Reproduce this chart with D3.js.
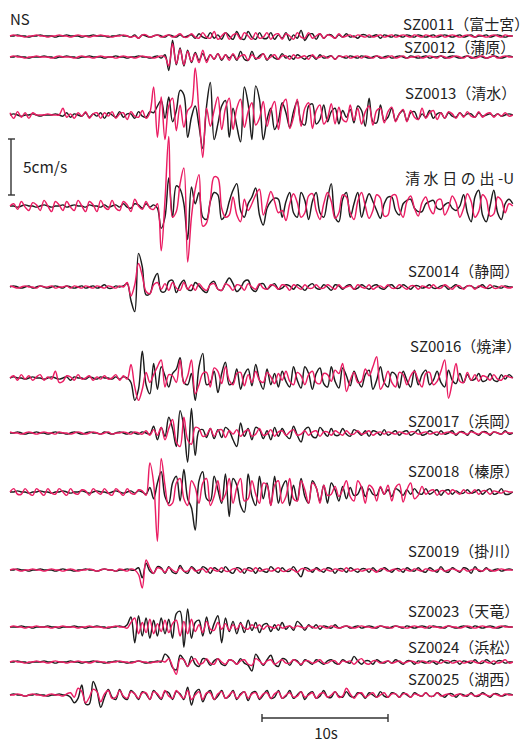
<!DOCTYPE html>
<html>
<head>
<meta charset="utf-8">
<script src="https://cdn.jsdelivr.net/npm/d3@7"></script>
<style>
  html, body { margin: 0; padding: 0; background: #fff; }
  svg { display: block; }
  text { font-family: "Noto Sans CJK JP", "DejaVu Sans", sans-serif; fill: #222; }
</style>
</head>
<body>
<svg id="chart" width="531" height="742"></svg>
<script>
// Velocity records, NS component, 0.3 s sampling, values in mm/s.
const sampleInterval = 0.3;
const component = "NS";
const stations = [
  "SZ0011（富士宮）", "SZ0012（蒲原）", "SZ0013（清水）", "清水日の出-U",
  "SZ0014（静岡）", "SZ0016（焼津）", "SZ0017（浜岡）", "SZ0018（榛原）",
  "SZ0019（掛川）", "SZ0023（天竜）", "SZ0024（浜松）", "SZ0025（湖西）"
];
const ampBarValue = 50;      // mm/s  (5 cm/s)
const ampBarLabel = "5cm/s";
const timeBar = [20, 30];    // s
const timeBarLabel = "10s";

const blackSZ0011 = [0,0,1,0,0,-1,0,0,1,0, 0,0,-1,0,0,1,0,0,0,-1, 0,0,1,0,0,0,-1,0,0,1, 0,0,-1,1,-2,1,0,-1,0,1, 0,-1,1,0,-1,1,-1,0,1,-2, 2,-1,-2,3,-2,1,-3,3,0,-3, 4,-2,-3,4,-1,-3,3,-2,-2,3, -3,1,-2,3,-4,1,-2,5,-4,1, 2,-3,2,-2,1,1,-2,1,-1,2, -1,0,-2,1,1,-1,0,1,-2,1, 0,-1,1,0,-1,1,0,-1,1,0, -1,0,1,-1,0,1,0,-1,0,1, -1,0,1,-1,0,0,1,-1,0,1,0,-1,0,0];
const redSZ0011 = [0,1,0,0,-1,0,0,1,0,0, -1,0,0,1,0,0,-1,0,1,0, 0,-1,0,0,1,0,0,-1,0,0, 1,0,-1,0,-2,1,1,-1,0,1, -1,0,1,-1,0,2,-1,-1,2,-1, -2,3,-1,-2,4,-3,0,3,-3,1, 2,-3,3,0,-3,3,-2,-1,3,-3, 1,2,-3,2,0,-3,3,-1,-2,3, -2,0,2,-2,1,0,-2,2,-1,0, 1,-1,1,0,-1,1,-1,0,1,-1, 0,1,-1,0,1,0,-1,1,0,-1, 1,0,-1,0,1,-1,0,1,0,-1, 0,1,0,-1,1,0,-1,0,1,0,-1,1,0,0];

const blackSZ0012 = [0,0,1,0,0,-1,0,0,0,1, 0,0,-1,0,0,1,0,0,-1,0, 0,1,0,0,0,-1,0,0,1,0, 0,-1,0,0,1,0,0,-1,0,1, -1,2,-12,15,-7,8,-8,6,-5,4, -3,3,-3,2,-2,3,-3,2,-1,2, -3,5,-2,-3,5,-2,1,3,-3,2, -1,-2,3,-1,1,-2,2,0,-2,1, 1,-2,2,-1,0,1,-2,1,0,-1, 1,0,-1,1,0,-1,0,1,-1,0, 1,-1,0,1,0,-1,1,0,-1,0, 1,-1,0,0,1,-1,0,1,0,-1, 0,1,-1,0,1,0,-1,0,1,0,-1,0,1,0];
const redSZ0012 = [0,1,0,0,-1,0,0,1,0,0, 0,-1,0,1,0,0,0,-1,0,1, 0,0,-1,0,1,0,0,0,-1,0, 1,0,0,-1,0,1,0,0,-1,0, 1,0,-8,12,-6,7,-7,5,-4,3, -5,6,-5,2,-2,3,-2,2,-3,3, -2,1,2,-3,2,-1,-1,3,-2,0, 2,-2,1,1,-2,2,-1,0,1,-2, 2,-1,0,1,-1,1,-2,1,0,1, -1,0,1,-1,1,0,-1,1,0,-1, 0,1,-1,0,1,-1,0,0,1,-1, 0,1,0,-1,1,0,-1,0,1,0, -1,1,0,-1,0,1,-1,0,1,-1,0,1,0,0];

const blackSZ0013 = [0,1,0,-1,0,0,1,0,-1,0, 0,0,1,0,-1,2,-2,1,0,-1, 2,-2,1,-1,2,-3,2,0,-2,3, -2,1,1,-3,3,-1,-2,3,2,8, 13,-3,16,-6,4,22,18,-20,-2,8, -10,-30,8,29,-22,-8,8,13,-20,6, -10,-24,25,10,-22,26,14,-22,-4,6, -13,-5,11,2,-11,3,12,-6,-9,8, 10,-8,-4,9,-6,3,6,-8,4,-2, 5,-7,8,4,-10,15,-6,-7,9,-5, -2,6,-5,1,4,-5,2,3,-4,1, -2,4,-3,1,2,-3,2,-1,-2,2, -1,1,1,-2,2,-1,0,1,-1,1,-1,0,1,0];
const redSZ0013 = [2,-3,3,-2,2,-3,2,0,0,0, 1,0,0,0,6,-2,1,-3,2,-1, 3,-3,1,2,-3,2,-1,3,-3,1, 2,-4,3,-1,-2,4,-3,2,25,-20, 16,-22,8,15,-14,9,-11,4,8,42, 2,-38,6,-10,4,16,-13,6,15,-13, 6,14,-11,3,11,-9,-3,12,-10,4, 12,-13,8,14,-12,-2,14,-10,6,11, -12,4,9,-8,-3,10,-8,7,-4,-6, 9,-5,6,-8,3,8,-9,4,6,-7, 3,7,-6,1,5,-6,4,-2,-4,6, -3,2,4,-4,2,-3,3,1,-3,2, -2,3,-1,-2,3,-2,1,2,-2,1,-1,2,-1,0];

const blackHinode = [0,0,-1,0,1,0,0,-1,0,1, 0,-1,0,0,1,-1,0,1,0,0, -1,1,0,0,-1,1,-1,0,1,-1, 2,-1,-2,2,1,-2,2,-1,1,-2, -20,-10,25,-10,18,15,2,-30,17,2, 12,-10,-12,4,12,10,-12,-8,4,14, 20,-4,-10,2,8,16,-8,-17,-2,4, 7,6,-10,4,12,-6,-10,12,5,-12, 4,12,-6,-10,6,20,-10,-14,6,12, -10,2,12,-10,2,11,4,-4,-11,2, 8,8,-4,-8,2,5,6,-2,-5,-5, 2,4,5,-2,-3,1,3,-2,-4,0, 10,-6,-14,8,14,-8,-14,0,14,-6,-12,2,6,2];
const redHinode = [0,2,-3,4,-1,-4,3,1,-4,5, 0,-5,4,1,-4,4,-1,-4,5,0, -5,4,1,-5,5,-1,-3,5,-2,-4, 4,1,-5,6,0,-3,4,-2,-3,2, -40,5,62,-10,-5,20,34,-50,-10,15, 28,-18,-15,5,26,25,-2,-10,-8,8, -8,-14,6,-4,2,10,15,-8,2,13, 4,-6,-4,-13,2,11,3,-10,-6,9, 11,-4,-12,2,12,4,-11,-6,10,8, -6,-12,4,12,0,-11,-4,10,7,-9, -8,9,10,-3,-10,4,9,-2,-9,3, 8,-2,-7,5,6,-8,-2,9,3,-10, -2,11,4,-10,-5,10,6,-9,-7,8,5,-6,2,0];

const blackSZ0014 = [0,1,0,-1,0,1,-1,0,1,0, -1,0,1,0,-1,1,0,-1,0,1, -1,0,1,-1,0,2,-1,-1,1,0, 1,3,-12,-22,30,18,-7,-6,6,12, -4,-4,5,6,-5,2,6,-2,-3,4, 1,-3,-5,3,5,-2,-3,3,8,3, -4,-1,5,6,-2,-4,2,3,-2,1, 3,-2,-1,2,1,-2,2,0,-3,1, 3,-1,-2,2,0,-3,2,1,-2,1, 2,-2,-1,2,0,-2,1,2,-1,-2, 1,2,-1,-1,2,0,-2,1,1,-1, 0,2,-1,-1,1,1,-2,0,2,-1, -1,1,1,-1,0,2,-1,-1,1,0,-1,1,0,0];
const redSZ0014 = [1,0,-1,0,1,0,0,-1,1,0, 0,1,-1,0,0,1,-1,1,0,-1, 1,0,-1,1,0,-1,1,0,-1,1, 0,4,-8,2,21,10,-4,-6,2,4, -2,3,-3,4,-1,-3,4,-2,2,-3, 3,-1,-3,2,3,-2,-3,3,1,-3, 2,1,-3,3,0,-2,3,-1,-2,2, 1,-2,2,1,-3,2,0,-2,2,-1, -1,2,-1,-1,2,0,-2,2,-1,0, 1,-2,2,0,-1,2,-2,0,1,-1, 2,-1,-1,2,0,-2,1,1,-2,1, 0,-1,2,-1,-1,2,0,-2,1,1, -2,1,1,-2,1,0,-1,2,-1,-1,1,0,-1,0];

const blackSZ0016 = [0,1,0,0,-1,0,1,0,0,-1, 0,1,0,-1,0,1,-2,1,0,0, -1,1,0,-1,1,0,0,-1,1,-1, 1,0,-4,-20,-10,24,-6,-14,13,-10, 10,2,-8,4,8,18,-4,-6,4,-20, 10,22,-6,-4,6,-13,4,14,-6,-4, 8,-10,3,8,-7,12,-2,-10,8,-6, 4,-8,6,-3,-8,10,-2,-9,10,4, -10,4,9,-5,-8,10,-3,-9,9,2, -7,6,-2,-8,3,7,-10,-2,10,-4, -8,5,3,-9,6,-2,-8,7,-6,3, 7,-6,-2,6,-4,-8,7,-2,-5,4, -4,3,-2,-1,4,-3,-2,4,-2,-3,3,-1,3,0];
const redSZ0016 = [0,2,-2,3,-1,2,-2,1,3,-2, 1,-1,6,-4,-3,2,1,-2,3,-1, 0,2,-2,1,-1,2,-1,0,3,-2, 2,-1,12,-8,-20,-10,5,-4,3,10, 16,-8,3,2,-4,16,-5,2,16,-14, -6,4,5,-8,9,6,-5,10,-2,-6, 4,5,-7,3,-4,6,-2,-4,5,1, -5,4,-2,6,-3,-6,5,2,-6,3, 6,-4,-5,4,3,-3,7,4,13,-12, -2,5,-4,-3,8,2,10,19,-10,-4, 6,-4,-8,5,3,-6,2,6,-2,-8, 4,5,-6,-3,6,16,-18,-4,13,-3, -4,5,-2,3,-3,2,1,-2,3,-1,-2,2,1,0];

const blackSZ0017 = [0,0,1,0,-1,0,0,1,0,0, -1,0,1,0,0,-1,0,1,0,-1, 0,1,0,0,-1,1,0,-1,0,1, 0,-1,1,0,-1,1,0,-1,6,-6, 5,-3,14,4,-12,20,5,-26,22,-20, 2,3,-4,4,-5,3,-4,5,2,-6, -12,9,-3,4,-6,5,3,-5,2,-6, 5,-3,4,-2,-5,6,-2,-8,3,5, -3,-4,5,1,-3,4,-2,-2,4,-1, -3,3,1,-2,2,-3,2,1,-2,3, -2,0,2,-2,1,2,-2,0,3,-2, -1,2,0,-2,2,-1,0,2,-2,1, 1,-2,2,0,-2,1,1,-2,1,0,-1,2,-1,0];
const redSZ0017 = [1,0,0,-1,0,1,0,-1,0,1, 0,0,-1,1,0,0,-1,0,1,0, -1,0,1,0,-1,0,1,-1,0,0, 1,0,-1,1,0,-1,2,-2,3,-2, 5,-6,4,12,-8,-12,14,-6,-10,5, 4,-3,-2,4,-3,2,3,-4,2,-1, 3,-3,1,3,-3,-1,4,-2,-1,3, -3,1,2,-2,1,3,-2,-1,2,-2, 1,2,-3,1,1,-2,2,0,-2,2, -1,-1,2,-1,0,2,-2,0,1,-1, 1,0,-1,1,0,-1,1,1,-1,0, 1,-1,0,1,-1,0,1,0,-1,1, 0,-1,1,0,-1,1,0,-1,1,0,-1,1,0,0];

const blackSZ0018 = [0,0,1,0,0,-1,0,0,1,0, 0,-1,0,0,1,0,-1,0,0,1, 0,-1,0,1,0,0,-1,0,1,0, -1,0,1,-1,1,0,-2,4,-6,8, 18,-4,-10,8,14,-8,20,-6,-14,-34, 10,18,-6,-8,14,2,-10,16,-22,12, 6,-12,-18,16,-4,-12,14,-6,8,-12, 14,-10,4,10,-12,6,-8,12,-4,-10, 10,4,-8,6,-10,8,2,-8,5,-6, 4,-3,-2,5,-4,3,-2,-3,4,-2, 2,-4,3,1,-3,2,-2,3,-1,-2, 3,-2,0,2,-3,1,2,-2,1,-1, -1,2,-1,0,2,-2,1,3,-2,-1,3,-2,-2,0];
const redSZ0018 = [0,3,-2,-2,3,-1,-3,3,0,-3, 3,-1,-2,3,0,-3,3,-1,-2,2, 1,-3,3,0,-2,3,-1,-3,3,0, -3,3,-1,-2,2,1,-3,26,8,-44, 30,6,-12,-10,8,12,-6,-12,10,4, -10,8,12,-12,-4,10,-8,-2,12,-10, 4,12,-8,-6,10,-2,-10,8,6,-12, 6,10,-10,-4,12,-6,-8,10,2,-10, 8,4,-10,6,-3,-2,5,-4,2,10, -4,-8,10,4,-10,6,3,-8,5,-2, 6,-8,4,7,-9,2,8,-6,-3,5, -2,1,2,-3,1,1,-2,2,0,-2, 2,-1,-1,2,-2,1,1,-2,1,0,-1,1,0,0];

const blackSZ0019 = [0,0,1,0,0,-1,0,0,1,0, 0,0,-1,0,1,0,0,-1,0,0, 1,0,0,-1,0,1,0,0,-1,0, 0,1,0,0,2,-7,6,-1,-3,3, 2,-3,3,-2,-3,4,-1,-3,3,0, -3,3,1,-3,2,0,-2,3,-1,-3, 2,1,-3,2,1,-3,2,-1,-2,3, 0,-2,2,-1,-1,3,-2,-6,2,1, -2,2,0,-2,2,1,-3,1,1,-2, 2,0,-2,1,1,-2,2,-1,-1,2, 0,-2,1,1,-2,2,0,-1,2,-1, -2,2,0,-2,3,-1,-2,2,0,-2, 2,1,-3,3,-1,-1,2,-1,0,1,-1,0,1,0];
const redSZ0019 = [0,1,0,-1,0,0,1,0,0,-1, 0,1,0,0,-1,0,1,0,-1,0, 0,1,0,-1,0,1,0,0,-1,1, 0,-1,1,0,-4,-16,9,2,-3,2, 1,-2,2,0,-2,2,-1,-1,2,-1, 0,1,-2,2,0,-1,2,-1,-1,1, 1,-2,1,0,-1,2,-1,0,1,-1, 0,2,-1,-1,1,0,-2,1,1,-1, 0,1,-1,1,0,-1,1,0,-1,2, -1,0,1,-1,0,1,0,-2,1,1, -1,0,1,-1,1,0,-1,1,0,-1, 1,0,-1,0,1,-1,0,1,0,-1, 1,-1,0,1,0,-1,1,0,-1,0,1,0,0,0];

const blackSZ0023 = [0,0,0,1,0,0,-1,0,0,0, 1,0,0,-1,0,0,0,1,0,0, -1,0,0,1,0,0,-1,0,0,1, 0,2,9,-14,10,-8,8,-10,6,-8, 8,-6,7,-10,12,14,-18,16,-10,4, 6,-8,9,-6,3,10,-14,8,-4,5, -6,4,-5,6,-3,4,-5,2,3,-4, 2,-3,4,-2,1,-3,5,2,-3,2, -1,2,-2,1,0,-1,2,-1,0,1, -1,0,1,-1,0,1,0,-1,1,0, -1,0,1,0,-1,1,0,-1,0,1, 0,-1,1,0,0,-1,1,0,-1,0, 1,0,-1,1,0,-1,0,1,0,-1,0,1,0,0];
const redSZ0023 = [0,1,0,0,-1,0,0,1,0,0, 0,-1,0,0,1,0,0,0,-1,0, 0,1,0,0,0,-1,0,0,1,0, 0,-1,4,8,-6,4,-5,7,-6,3, -4,6,-5,3,6,-8,5,-6,7,-4, 2,-5,5,-2,-3,4,-2,3,-3,2, -2,3,-1,-2,2,-1,2,-2,1,0, -1,2,-1,0,1,-1,1,0,-1,1, 0,-1,1,0,-1,1,0,-1,0,1, 0,-1,0,1,0,0,-1,0,1,0, 0,-1,1,0,0,-1,0,1,0,0, -1,1,0,0,-1,0,1,0,0,-1, 0,1,0,-1,0,1,0,0,-1,0,1,0,0,0];

const blackSZ0024 = [0,0,1,0,0,-1,0,0,0,1, 0,0,-1,0,0,0,1,0,0,-1, 0,0,1,0,0,-1,0,0,1,0, 0,-1,0,0,1,0,-1,0,0,1, 0,7,4,-5,-7,6,2,-4,5,-2, -4,3,2,-3,1,3,-2,-3,2,1, -2,3,-1,-3,-8,7,2,-3,2,6, -2,-4,3,2,-3,2,1,-3,2,0, -2,2,0,-2,1,2,-1,-2,2,0, -1,5,1,-2,1,1,-2,2,0,-1, 1,-1,2,0,-2,1,1,-2,1,0, -1,1,0,-2,2,0,-1,1,1,-2, 1,0,-1,2,-1,-1,2,0,-2,1,1,-1,0,0];
const redSZ0024 = [0,1,0,0,-1,0,0,1,0,0, -1,0,1,0,0,-1,0,0,1,0, 0,-1,0,1,0,0,-1,0,0,1, 0,0,-1,0,1,0,0,-1,0,0, 1,0,3,-4,-11,3,2,-4,1,3, -2,-1,3,-1,-2,3,0,-2,2,1, -2,1,2,-2,-3,3,1,-2,1,2, -2,0,2,-1,-1,2,0,-2,1,1, -1,0,2,-1,-1,1,1,-2,1,0, 1,-2,1,3,-1,-2,1,1,-1,0, 1,-1,0,1,-1,0,1,0,-1,1, 0,-1,1,0,-1,1,1,-1,0,1, -1,0,1,0,-1,1,0,-1,1,-1,0,2,-1,0];

const blackSZ0025 = [0,1,0,0,-1,0,0,1,0,0, -1,0,0,1,0,0,-2,-7,-3,9, -8,-8,12,4,-11,-2,5,-2,-4,5, -2,-4,4,1,-4,3,1,-4,4,0, -4,3,2,-4,3,1,-4,7,-9,2, 5,-6,1,4,-4,-1,4,-3,-1,4, -4,1,3,-5,2,3,-4,0,4,-3, -2,4,-3,-1,4,-3,0,3,-4,1, 3,-3,-1,4,-2,-2,3,-1,-2,3, -1,-2,2,1,-3,2,0,-2,3,-1, -2,2,1,-2,2,0,-2,2,0,-1, 2,-1,-1,2,0,-2,1,1,-2,1, 0,-1,2,-1,-1,2,0,-2,1,1,-1,0,1,0];
const redSZ0025 = [0,0,1,0,-1,0,1,0,0,-1, 0,1,0,0,-1,1,2,-2,6,3, -7,-2,5,3,-6,1,4,-3,-2,4, -1,-3,3,1,-3,2,2,-4,3,1, -3,4,-1,-3,4,0,-3,4,-4,0, 3,-4,2,2,-4,1,3,-3,0,3, -3,0,3,-3,1,2,-3,1,2,-3, 1,3,-3,0,2,-2,-1,3,-2,0, 2,-3,1,2,-2,0,3,-2,-1,6, 1,-3,1,2,-2,0,2,-2,0,2, -2,1,1,-2,1,1,-2,1,0,-1, 2,-1,-1,2,-1,0,1,-1,0,1, -1,0,1,-1,0,1,0,-1,1,0,-1,1,0,0];

const blackSeries = [blackSZ0011, blackSZ0012, blackSZ0013, blackHinode, blackSZ0014, blackSZ0016,
                     blackSZ0017, blackSZ0018, blackSZ0019, blackSZ0023, blackSZ0024, blackSZ0025];
const redSeries = [redSZ0011, redSZ0012, redSZ0013, redHinode, redSZ0014, redSZ0016,
                   redSZ0017, redSZ0018, redSZ0019, redSZ0023, redSZ0024, redSZ0025];

// Layout: zero line of each trace, and its label position
const traceBase = [36, 57, 115, 206, 287, 378, 433, 492, 570, 627, 662, 695];
const labelBase = [30, 53, 99, 184, 277, 352, 427, 477, 557, 617, 653, 685];
const labelLeft = [403, 404, 405, 405, 408, 410, 408, 408, 408, 408, 408, 408];
const labelSize = 15;

const svg = d3.select("#chart");
const x = d3.scaleLinear().domain([0, 40]).range([10, 514]);
const amp = d3.scaleLinear().domain([0, 50]).range([0, 56]);

const colors = { black: "#1c1c1c", red: "#ea1d63" };

function drawTrace(values, base, color) {
  const line = d3.line()
    .x((d, i) => x(i * sampleInterval))
    .y(d => base - amp(d))
    .curve(d3.curveCatmullRom.alpha(0.5));
  svg.append("path")
    .datum(values)
    .attr("d", line)
    .attr("fill", "none")
    .attr("stroke", color)
    .attr("stroke-width", 1.45)
    .attr("stroke-linejoin", "round");
}

stations.forEach((name, k) => {
  drawTrace(blackSeries[k], traceBase[k], colors.black);
  drawTrace(redSeries[k], traceBase[k], colors.red);
  const label = svg.append("text")
    .attr("x", labelLeft[k])
    .attr("y", labelBase[k])
    .attr("font-size", labelSize);
  if (name.startsWith("SZ")) {
    label.text(name);
  } else {
    // place name written with wider character spacing, suffix tight
    const cut = name.indexOf("-");
    label.append("tspan").attr("letter-spacing", 3.6).text(name.slice(0, cut));
    label.append("tspan").text(name.slice(cut));
  }
});

// Component label
svg.append("text").attr("x", 10).attr("y", 25).attr("font-size", labelSize).text(component);

// Amplitude bar (5 cm/s)
const barX = 11, barBottom = 195;
const ampBar = svg.append("g").attr("stroke", "#333").attr("stroke-width", 1.4);
ampBar.append("line").attr("x1", barX).attr("x2", barX)
  .attr("y1", barBottom).attr("y2", barBottom - amp(ampBarValue));
ampBar.append("line").attr("x1", barX - 3).attr("x2", barX + 4)
  .attr("y1", barBottom).attr("y2", barBottom);
ampBar.append("line").attr("x1", barX - 3).attr("x2", barX + 4)
  .attr("y1", barBottom - amp(ampBarValue)).attr("y2", barBottom - amp(ampBarValue));
svg.append("text").attr("x", 23).attr("y", 173).attr("font-size", 15.5).text(ampBarLabel);

// Time bar (10 s)
const tbY = 718;
const timeG = svg.append("g").attr("stroke", "#333").attr("stroke-width", 1.4);
timeG.append("line").attr("x1", x(timeBar[0])).attr("x2", x(timeBar[1])).attr("y1", tbY).attr("y2", tbY);
timeBar.forEach(t => {
  timeG.append("line").attr("x1", x(t)).attr("x2", x(t)).attr("y1", tbY - 4).attr("y2", tbY + 4);
});
svg.append("text").attr("x", (x(timeBar[0]) + x(timeBar[1])) / 2 + 1).attr("y", 739)
  .attr("text-anchor", "middle").attr("font-size", labelSize).text(timeBarLabel);
</script>
</body>
</html>
